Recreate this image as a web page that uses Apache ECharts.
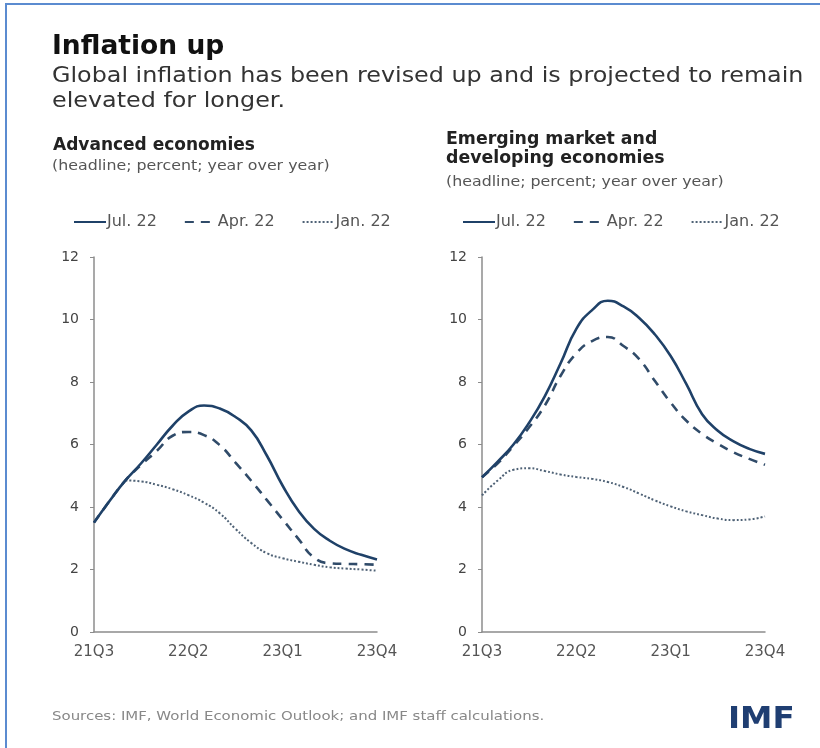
<!DOCTYPE html>
<html>
<head>
<meta charset="utf-8">
<script src="https://cdn.jsdelivr.net/npm/echarts@6/dist/echarts.min.js"></script>
<style>
  html, body { margin: 0; padding: 0; background: #fff; }
  #chart { width: 820px; height: 748px; }
</style>
</head>
<body>
<div id="chart"></div>
<script>
// Headline inflation, percent year over year, sampled every half quarter from 21Q3
const steps = [0, 0.5, 1, 1.5, 2, 2.5, 3, 3.5, 4, 4.5, 5, 5.5, 6, 6.5, 7, 7.5, 8, 8.5, 9];
const quarterLabels = ['21Q3', '22Q2', '23Q1', '23Q4'];   // every third quarter

// Advanced economies
const advJul22 = [3.5, 4.2, 4.85, 5.4, 6.0, 6.6, 7.05, 7.25, 7.15, 6.88, 6.45, 5.64, 4.68, 3.88, 3.3, 2.92, 2.65, 2.47, 2.32];
const advApr22 = [3.5, 4.2, 4.85, 5.35, 5.8, 6.28, 6.4, 6.3, 5.98, 5.42, 4.84, 4.22, 3.6, 2.98, 2.38, 2.2, 2.18, 2.17, 2.15];
const advJan22 = [null, null, 4.85, 4.82, 4.71, 4.57, 4.38, 4.14, 3.8, 3.3, 2.85, 2.52, 2.36, 2.25, 2.15, 2.07, 2.03, 2.0, 1.96];

// Emerging market and developing economies
const emJul22 = [4.95, 5.45, 6.0, 6.7, 7.55, 8.6, 9.7, 10.3, 10.6, 10.42, 10.05, 9.52, 8.83, 7.93, 6.97, 6.44, 6.1, 5.86, 5.7];
const emApr22 = [4.95, 5.4, 5.95, 6.55, 7.25, 8.2, 8.92, 9.31, 9.44, 9.15, 8.73, 8.03, 7.34, 6.76, 6.34, 6.02, 5.75, 5.54, 5.35];
const emJan22 = [4.37, 4.85, 5.19, 5.24, 5.15, 5.04, 4.96, 4.9, 4.8, 4.64, 4.43, 4.21, 4.02, 3.86, 3.74, 3.63, 3.58, 3.6, 3.7];

const yTicks = { min: 0, max: 12, interval: 2 };
const seriesNames = ['Jul. 22', 'Apr. 22', 'Jan. 22'];

const FONT = "'DejaVu Sans', 'Noto Sans', sans-serif";
const NAVY = '#1f4168';
const DASH = '#304b69';
const DOT = '#4f6276';
const AXIS = '#8c8c8c';

const chart = echarts.init(document.getElementById('chart'), null, { renderer: 'canvas' });

function pairs(values) {
  return steps.map((s, i) => [s, values[i] == null ? '-' : values[i]]);
}
function xAxis(gridIndex) {
  return {
    type: 'value', gridIndex, min: 0, max: 9, interval: 3,
    axisLine: { show: true, onZero: false, lineStyle: { color: AXIS, width: 1.5 } },
    axisTick: { show: false },
    splitLine: { show: false },
    axisLabel: { color: '#555', fontSize: 15, fontFamily: FONT, margin: 13,
      formatter: v => quarterLabels[Math.round(v / 3)] }
  };
}
function yAxis(gridIndex) {
  return {
    type: 'value', gridIndex, min: yTicks.min, max: yTicks.max, interval: yTicks.interval,
    axisLine: { show: true, lineStyle: { color: AXIS, width: 1.5 } },
    axisTick: { show: true, length: 4, lineStyle: { color: AXIS } },
    splitLine: { show: false },
    axisLabel: { color: '#444', fontSize: 14, fontFamily: FONT, margin: 15 }
  };
}
function lines(idx, jul, apr, jan) {
  const base = { type: 'line', xAxisIndex: idx, yAxisIndex: idx, smooth: 0.5,
    symbol: 'none', silent: true, connectNulls: false };
  return [
    Object.assign({}, base, { name: seriesNames[0], data: pairs(jul), z: 3,
      lineStyle: { color: NAVY, width: 2.6, type: 'solid' }, itemStyle: { color: NAVY } }),
    Object.assign({}, base, { name: seriesNames[1], data: pairs(apr), z: 2,
      lineStyle: { color: DASH, width: 2.6, type: [9, 7] }, itemStyle: { color: DASH } }),
    Object.assign({}, base, { name: seriesNames[2], data: pairs(jan), z: 1,
      lineStyle: { color: DOT, width: 2, type: [2, 2] }, itemStyle: { color: DOT } })
  ];
}
function legend(left) {
  return {
    left, top: 214, padding: 0, itemWidth: 32, itemHeight: 10, itemGap: 27,
    data: seriesNames, selectedMode: false,
    itemStyle: { opacity: 0 },
    textStyle: { color: '#555', fontSize: 16, fontFamily: FONT, padding: [0, 0, 0, -4] }
  };
}
// Free text, optionally stretched horizontally from its left edge
function label(text, x, y, size, weight, color, stretch, lineHeight) {
  return {
    type: 'text', x, y, scaleX: stretch || 1, originX: 0, originY: 0, silent: true,
    style: {
      text, fill: color, verticalAlign: 'top', align: 'left',
      font: weight + ' ' + size + 'px ' + FONT,
      lineHeight: lineHeight || Math.round(size * 1.2)
    }
  };
}

const option = {
  backgroundColor: '#fff',
  animation: false,
  legend: [legend(73), legend(462)],
  grid: [
    { left: 94, width: 283, top: 257, height: 375 },
    { left: 482, width: 283, top: 257, height: 375 }
  ],
  xAxis: [xAxis(0), xAxis(1)],
  yAxis: [yAxis(0), yAxis(1)],
  series: [].concat(
    lines(0, advJul22, advApr22, advJan22),
    lines(1, emJul22, emApr22, emJan22)
  ),
  graphic: [
    { type: 'rect', shape: { x: 6, y: 4, width: 840, height: 780 },
      style: { fill: 'none', stroke: '#5b8bd0', lineWidth: 2 }, silent: true },
    label('Inflation up', 52, 32, 26, 'bold', '#111', 1.02),
    label('Global inflation has been revised up and is projected to remain\nelevated for longer.',
      52, 64, 21, 'normal', '#333', 1.135, 25),
    label('Advanced economies', 53, 136, 17, 'bold', '#222', 1.0),
    label('(headline; percent; year over year)', 52, 158, 14, 'normal', '#555', 1.13),
    label('Emerging market and\ndeveloping economies', 446, 130, 17, 'bold', '#222', 1.02, 19),
    label('(headline; percent; year over year)', 446, 174, 14, 'normal', '#555', 1.13),
    label('Sources: IMF, World Economic Outlook; and IMF staff calculations.',
      52, 709, 13, 'normal', '#888', 1.15),
    label('IMF', 728, 701, 31, 'bold', '#1f3e72', 1.05)
  ]
};

chart.setOption(option);
</script>
</body>
</html>
